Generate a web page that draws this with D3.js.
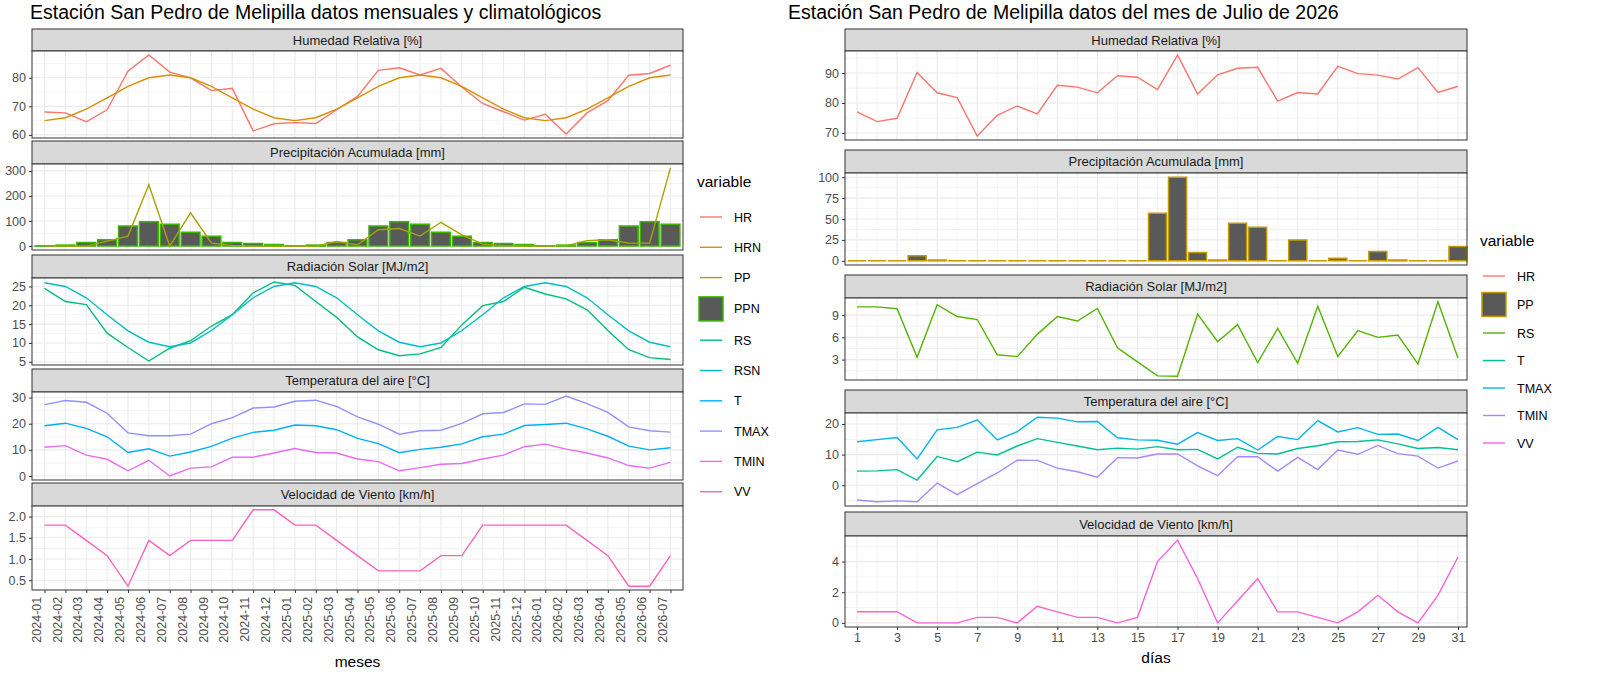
<!DOCTYPE html>
<html>
<head>
<meta charset="utf-8">
<script src="https://cdn.jsdelivr.net/npm/d3@7"></script>
<style>
body{margin:0;background:#fff;font-family:"Liberation Sans",Arial,sans-serif;}
</style>
</head>
<body>
<svg id="chart" width="1600" height="676"></svg>
<script>
// ---------- data: monthly (left) ----------
var months = ["2024-01","2024-02","2024-03","2024-04","2024-05","2024-06","2024-07","2024-08","2024-09","2024-10","2024-11","2024-12",
  "2025-01","2025-02","2025-03","2025-04","2025-05","2025-06","2025-07","2025-08","2025-09","2025-10","2025-11","2025-12",
  "2026-01","2026-02","2026-03","2026-04","2026-05","2026-06","2026-07"];
var mHR  = [68,67.7,64.6,68.8,82.3,88,82,80,75.5,76.3,61.4,63.9,64.3,64,68.8,73.5,82.6,83.5,81,83.3,76.8,71,68.1,65.2,67.2,60.3,67.7,72,80.9,81.5,84.4];
var mHRN = [65,66,69,73,77,80,81,80,77,73,69,66,65,66,69,73,77,80,81,80,77,73,69,66,65,66,69,73,77,80,81];
var mPP  = [0,0,0,20,40,245,0,133,12,3,0,0,0,0,18,5,65,70,40,95,45,8,2,0,0,2,22,25,12,12,312];
var mPPN = [1,4,14,25,80,97,87,55,39,14,10,6,1,4,14,25,80,97,87,55,39,14,10,6,1,4,14,25,80,97,87];
var mRS  = [24.5,21,20.2,12.6,8.8,5.2,8.6,10.6,14.5,17.5,23.3,26.2,25.3,21,16.8,11.6,8.2,6.6,7.1,8.8,14.8,19.9,21,24.8,23,21.7,18.8,13.3,8.2,6.1,5.6];
var mRSN = [26,25,22,17.5,13.2,10.2,9,10,13.3,17.5,22,25,26,25,22,17.5,13.2,10.2,9,10,13.3,17.5,22,25,26,25,22,17.5,13.2,10.2,9];
var mT    = [19.2,20.2,18.2,15,9,10.4,7.6,9.2,11.3,14.5,16.7,17.5,19.5,19.2,17.7,14.4,12.4,8.9,10.2,11,12.3,15,16,19.3,19.7,20.2,18,15.2,11.4,10,10.8];
var mTMAX = [27.3,28.9,28.2,24,16.5,15.4,15.4,16,20,22.3,26,26.4,28.6,29,26.6,22.6,19.8,16,17.3,17.5,20.1,23.8,24.3,27.6,27.4,30.6,27.7,24.3,18.8,17.3,16.8];
var mTMIN = [11,11.6,8,6.4,2,6,0,3,3.5,7.2,7.2,8.8,10.5,9,8.8,6.5,5.5,2,3.2,4.5,4.8,6.5,8,11.2,12.2,10.3,8.8,6.9,4,3,5.2];
var mVV  = [1.8,1.8,1.44,1.08,0.36,1.44,1.08,1.44,1.44,1.44,2.16,2.16,1.8,1.8,1.44,1.08,0.72,0.72,0.72,1.08,1.08,1.8,1.8,1.8,1.8,1.8,1.44,1.08,0.36,0.36,1.08];

// ---------- data: daily (right) ----------
var days = d3.range(1, 32);
var dHR  = [77,73.8,74.9,90.2,83.4,81.8,69,75.9,79,76.4,85.9,85.3,83.4,89.1,88.6,84.5,96,83,89.4,91.6,91.9,80.6,83.5,83,92.2,89.8,89.3,88,91.8,83.5,85.6];
var dPP  = [0,0,0,6,1,0,0,0,0,0,0,0,0,0,0,57,100,10,1,45,40,0,25,0,3,0,11,1,0,0,17];
var dRS  = [10.1,10.1,9.85,3.3,10.4,8.8,8.4,3.65,3.4,6.4,8.8,8.2,9.9,4.6,2.7,0.8,0.75,9.15,5.4,7.7,2.6,7.2,2.5,10.2,3.4,6.9,6,6.3,2.4,10.8,3.2];
var dT    = [4.6,4.7,5.1,1.7,9.4,7.7,10.8,9.9,12.8,15.2,14,12.8,11.6,12.1,11.8,12.6,11.6,11.7,8.6,12.4,10.4,10.2,12,12.9,14.2,14.3,14.8,13.5,12,12.3,11.6];
var dTMAX = [14.2,14.9,15.6,8.6,18.1,18.9,21.3,14.8,17.5,22.2,21.9,20.7,20.8,15.5,14.8,14.7,13.4,17.2,14.6,15.2,11.5,15.9,14.9,21.1,17.4,18.8,16.6,16.7,14.6,18.9,14.9];
var dTMIN = [-4.8,-5.4,-5.1,-5.4,0.7,-3.1,0.5,4,8.2,8.1,5.6,4.4,2.6,9,8.9,10.2,10.2,6.3,3.1,9.3,9.3,4.6,9.1,5.1,11.5,10.1,13,10.3,9.5,5.6,7.9];
var dVV  = [0.73,0.73,0.73,0,0,0,0.36,0.36,0,1.08,0.72,0.36,0.36,0,0.36,4,5.4,2.9,0,1.44,2.88,0.72,0.72,0.36,0,0.72,1.8,0.72,0,1.8,4.3];

var stripTitles = ["Humedad Relativa [%]","Precipitación Acumulada [mm]","Radiación Solar [MJ/m2]","Temperatura del aire [°C]","Velocidad de Viento [km/h]"];

var leftColors = {HR:"#F8766D",HRN:"#D89000",PP:"#A3A500",PPN:"#39B600",RS:"#00BF7D",RSN:"#00BFC4",T:"#00B0F6",TMAX:"#9590FF",TMIN:"#E76BF3",VV:"#FF62BC"};
var rightColors = {HR:"#F8766D",PP:"#C49A00",RS:"#53B400",T:"#00C094",TMAX:"#00B6EB",TMIN:"#A58AFF",VV:"#FB61D7"};

var svg = d3.select("#chart");

function drawFacet(cfg){
    var x = d3.scaleLinear().domain(cfg.xDomain).range([cfg.x0, cfg.x1]);
    var bw = x(0.9) - x(0);

    cfg.panels.forEach(function(p, i){
        var lay = cfg.layout[i];
        var g = svg.append("g");
        // strip
        g.append("rect").attr("x", cfg.x0).attr("y", lay[0]).attr("width", cfg.x1 - cfg.x0).attr("height", lay[1] - lay[0])
            .attr("fill", "#D9D9D9").attr("stroke", "#333").attr("stroke-width", 1);
        g.append("text").attr("x", (cfg.x0 + cfg.x1) / 2).attr("y", (lay[0] + lay[1]) / 2 + 4.5)
            .attr("text-anchor", "middle").attr("font-size", 13).attr("fill", "#1A1A1A").text(stripTitles[i]);

        var all = [];
        p.lines.forEach(function(s){ all = all.concat(s[1]); });
        if (p.bars) all = all.concat(p.bars[1]).concat([0]);
        var ext = d3.extent(all), pad = (ext[1] - ext[0]) * 0.05;
        var y = d3.scaleLinear().domain([ext[0] - pad, ext[1] + pad]).range([lay[2], lay[1]]);

        // panel bg + grid
        g.append("rect").attr("x", cfg.x0).attr("y", lay[1]).attr("width", cfg.x1 - cfg.x0).attr("height", lay[2] - lay[1]).attr("fill", "#fff");
        var step = p.ticks[1] - p.ticks[0];
        var minor = [p.ticks[0] - step / 2].concat(p.ticks.map(function(t){ return t + step / 2; }))
            .filter(function(t){ return t >= y.domain()[0] && t <= y.domain()[1]; });
        g.selectAll(".ymin").data(minor).enter().append("line")
            .attr("x1", cfg.x0).attr("x2", cfg.x1).attr("y1", y).attr("y2", y).attr("stroke", "#EBEBEB").attr("stroke-width", 0.55);
        g.selectAll(".xmin").data(cfg.xMinor).enter().append("line")
            .attr("x1", x).attr("x2", x).attr("y1", lay[1]).attr("y2", lay[2]).attr("stroke", "#EBEBEB").attr("stroke-width", 0.55);
        g.selectAll(".ymaj").data(p.ticks).enter().append("line")
            .attr("x1", cfg.x0).attr("x2", cfg.x1).attr("y1", y).attr("y2", y).attr("stroke", "#EBEBEB").attr("stroke-width", 1.1);
        g.selectAll(".xmaj").data(cfg.xMajor).enter().append("line")
            .attr("x1", x).attr("x2", x).attr("y1", lay[1]).attr("y2", lay[2]).attr("stroke", "#EBEBEB").attr("stroke-width", 1.1);

        // bars (drawn as closed paths so zero values still show their outline)
        if (p.bars){
            g.selectAll(".bar").data(p.bars[1]).enter().append("path")
                .attr("d", function(d, j){
                    var xl = x(cfg.xs[j]) - bw / 2, xr = xl + bw, y0 = y(0), y1 = y(d);
                    return "M" + xl + "," + y0 + "L" + xl + "," + y1 + "L" + xr + "," + y1 + "L" + xr + "," + y0 + "Z";
                })
                .attr("fill", "#595959").attr("stroke", cfg.colors[p.bars[0]]).attr("stroke-width", 1.5);
        }
        // lines
        var line = d3.line().x(function(d, j){ return x(cfg.xs[j]); }).y(function(d){ return y(d); });
        p.lines.forEach(function(s){
            g.append("path").datum(s[1]).attr("d", line).attr("fill", "none")
                .attr("stroke", cfg.colors[s[0]]).attr("stroke-width", 1.4);
        });

        // border
        g.append("rect").attr("x", cfg.x0).attr("y", lay[1]).attr("width", cfg.x1 - cfg.x0).attr("height", lay[2] - lay[1])
            .attr("fill", "none").attr("stroke", "#333").attr("stroke-width", 1);

        // y axis
        var ya = g.append("g").attr("transform", "translate(" + cfg.x0 + ",0)")
            .call(d3.axisLeft(y).tickValues(p.ticks).tickSize(3).tickPadding(3).tickFormat(p.fmt || d3.format("")));
        ya.select(".domain").remove();
        ya.selectAll("line").attr("stroke", "#333");
        ya.selectAll("text").attr("font-size", 12.5).attr("fill", "#4D4D4D").attr("font-family", "Liberation Sans, Arial, sans-serif");
    });

    // x axis under last panel
    var last = cfg.layout[cfg.layout.length - 1][2];
    var xa = svg.append("g").attr("transform", "translate(0," + last + ")")
        .call(d3.axisBottom(x).tickValues(cfg.xMajor).tickSize(3).tickPadding(3).tickFormat(cfg.xFmt));
    xa.select(".domain").remove();
    xa.selectAll("line").attr("stroke", "#333");
    xa.selectAll("text").attr("font-size", 12.5).attr("fill", "#4D4D4D").attr("font-family", "Liberation Sans, Arial, sans-serif");
    if (cfg.rotate){
        xa.selectAll("text").attr("transform", "rotate(-90)").attr("text-anchor", "end")
            .attr("dx", "-0.3em").attr("dy", "-0.35em").attr("y", 0).attr("x", -3);
    }
    svg.append("text").attr("x", (cfg.x0 + cfg.x1) / 2).attr("y", cfg.xTitleY).attr("text-anchor", "middle")
        .attr("font-size", 15.5).attr("fill", "#000").text(cfg.xTitle);
    svg.append("text").attr("x", cfg.titleX).attr("y", 19).attr("font-size", 19.5).attr("fill", "#000").text(cfg.title);

    // legend
    var lg = svg.append("g");
    lg.append("text").attr("x", cfg.legX).attr("y", cfg.legY).attr("font-size", 15.5).text("variable");
    cfg.legend.forEach(function(k, j){
        var cy = cfg.legY + 30 + j * cfg.legStep + (cfg.legBar && cfg.legend.indexOf(cfg.legBar) < j ? cfg.legExtra : 0);
        if (k === cfg.legBar){
            cy += cfg.legExtra / 2;
            lg.append("rect").attr("x", cfg.legX + 2).attr("y", cy - 12).attr("width", 24).attr("height", 24)
                .attr("fill", "#595959").attr("stroke", cfg.colors[k]).attr("stroke-width", 1.5);
        } else {
            lg.append("line").attr("x1", cfg.legX + 3).attr("x2", cfg.legX + 25).attr("y1", cy).attr("y2", cy)
                .attr("stroke", cfg.colors[k]).attr("stroke-width", 1.4);
        }
        lg.append("text").attr("x", cfg.legX + 37).attr("y", cy + 4.5).attr("font-size", 12.5).attr("fill", "#000").text(k);
    });
}

var mIdx = d3.range(months.length);
drawFacet({
    title: "Estación San Pedro de Melipilla datos mensuales y climatológicos", titleX: 30,
    x0: 32, x1: 683, xDomain: [-0.6, 30.6], xs: mIdx, xMajor: mIdx, xMinor: [],
    xFmt: function(d){ return months[d]; }, rotate: true, xTitle: "meses", xTitleY: 667,
    colors: leftColors,
    layout: [[29,51,138],[141,164,250],[255,278,365],[369,392,480],[483,506,590]],
    panels: [
        {lines: [["HR", mHR], ["HRN", mHRN]], ticks: [60,70,80]},
        {bars: ["PPN", mPPN], lines: [["PP", mPP]], ticks: [0,100,200,300]},
        {lines: [["RS", mRS], ["RSN", mRSN]], ticks: [5,10,15,20,25]},
        {lines: [["T", mT], ["TMAX", mTMAX], ["TMIN", mTMIN]], ticks: [0,10,20,30]},
        {lines: [["VV", mVV]], ticks: [0.5,1,1.5,2], fmt: d3.format(".1f")}
    ],
    legend: ["HR","HRN","PP","PPN","RS","RSN","T","TMAX","TMIN","VV"],
    legBar: "PPN", legX: 697, legY: 187, legStep: 30.3, legExtra: 2
});

drawFacet({
    title: "Estación San Pedro de Melipilla datos del mes de Julio de 2026", titleX: 788,
    x0: 845, x1: 1467, xDomain: [0.4, 31.45], xs: days,
    xMajor: d3.range(1, 32, 2), xMinor: d3.range(0, 33, 2).filter(function(d){ return d >= 0.4 && d <= 31.45; }),
    xFmt: d3.format("d"), rotate: false, xTitle: "días", xTitleY: 663,
    colors: rightColors,
    layout: [[29,51,140],[150,173,265],[275,298,380],[390,413,506],[512,536,627]],
    panels: [
        {lines: [["HR", dHR]], ticks: [70,80,90]},
        {bars: ["PP", dPP], lines: [], ticks: [0,25,50,75,100]},
        {lines: [["RS", dRS]], ticks: [3,6,9]},
        {lines: [["T", dT], ["TMAX", dTMAX], ["TMIN", dTMIN]], ticks: [0,10,20]},
        {lines: [["VV", dVV]], ticks: [0,2,4]}
    ],
    legend: ["HR","PP","RS","T","TMAX","TMIN","VV"],
    legBar: "PP", legX: 1480, legY: 246, legStep: 27.5, legExtra: 2
});
</script>
</body>
</html>
